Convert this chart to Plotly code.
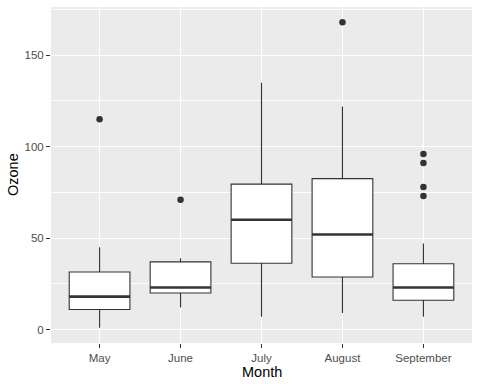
import plotly.graph_objects as go

months = ["May", "June", "July", "August", "September"]
q1 = [11, 20, 36.25, 28.75, 16]
median = [18, 23, 60, 52, 23]
q3 = [31.5, 37, 79.5, 82.5, 36]
lower = [1, 12, 7, 9, 7]
upper = [45, 39, 135, 122, 47]
outliers = {"May": [115], "June": [71], "August": [168], "September": [73, 78, 91, 96]}
y_ticks = [0, 50, 100, 150]

BOX_W = 0.75
fig = go.Figure()
for i, m in enumerate(months):
    fig.add_trace(go.Box(
        x=[i], q1=[q1[i]], median=[median[i]], q3=[q3[i]],
        lowerfence=[lower[i]], upperfence=[upper[i]],
        width=BOX_W, boxpoints=False, whiskerwidth=0,
        fillcolor="white", line=dict(color="#333333", width=1.1),
        showlegend=False, hoverinfo="skip"))

mx, my = [], []
for i, m in enumerate(months):
    mx += [i - BOX_W / 2, i + BOX_W / 2, None]
    my += [median[i], median[i], None]
fig.add_trace(go.Scatter(x=mx, y=my, mode="lines",
                         line=dict(color="#333333", width=2.6),
                         showlegend=False, hoverinfo="skip"))

ox, oy = [], []
for i, m in enumerate(months):
    for v in outliers.get(m, []):
        ox.append(i)
        oy.append(v)
fig.add_trace(go.Scatter(x=ox, y=oy, mode="markers",
                         marker=dict(color="#333333", size=6.5),
                         showlegend=False, hoverinfo="skip"))

fig.update_layout(
    width=480, height=384,
    margin=dict(l=51, r=8, t=7, b=41),
    paper_bgcolor="white", plot_bgcolor="#EBEBEB",
    font=dict(family="Liberation Sans, Arial, sans-serif"),
    xaxis=dict(
        range=[-0.6, 4.6], tickmode="array",
        tickvals=list(range(len(months))), ticktext=months,
        showgrid=True, gridcolor="white", gridwidth=1.1,
        zeroline=False, ticks="outside", ticklen=4, tickwidth=1.1,
        tickcolor="#333333", tickfont=dict(size=11.5, color="#4D4D4D"),
        automargin=False,
    ),
    yaxis=dict(
        range=[-7.35, 176.35], tickmode="array", tickvals=y_ticks,
        showgrid=True, gridcolor="white", gridwidth=1.1,
        minor=dict(tick0=25, dtick=50, showgrid=True, gridcolor="white", gridwidth=0.55),
        zeroline=False, ticks="outside", ticklen=4, tickwidth=1.1,
        tickcolor="#333333", tickfont=dict(size=11.5, color="#4D4D4D"),
        automargin=False,
    ),
    annotations=[
        dict(text="Month", xref="paper", yref="paper", x=0.5, y=0,
             yshift=-29, yanchor="middle", showarrow=False,
             font=dict(size=14.5, color="black")),
        dict(text="Ozone", xref="paper", yref="paper", x=0, y=0.5,
             xshift=-38, xanchor="center", textangle=-90, showarrow=False,
             font=dict(size=14.5, color="black")),
    ],
)
fig.write_html("out.html", config={"displayModeBar": False},
               post_script="document.body.style.margin='0';document.body.style.overflow='hidden';")
